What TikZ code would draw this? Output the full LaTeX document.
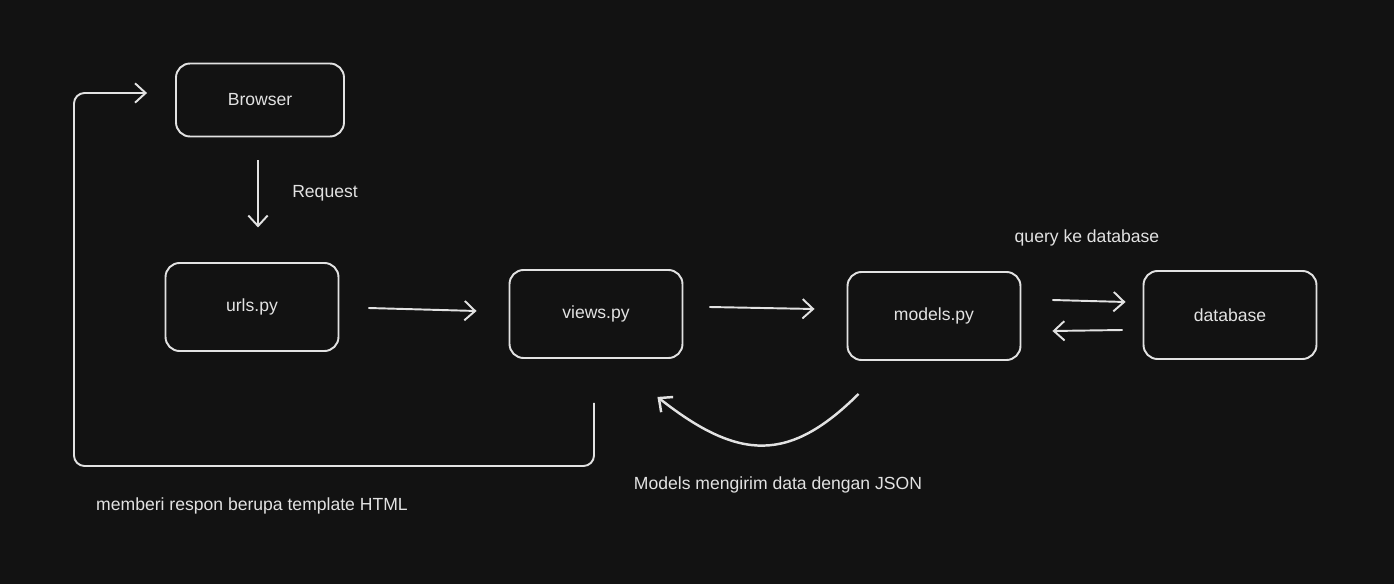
\documentclass[tikz,border=0pt]{standalone}
\usepackage{fontspec}
\setmainfont{Liberation Sans}
\usetikzlibrary{arrows.meta}
\definecolor{bg}{HTML}{121212}
\definecolor{ink}{HTML}{E2E2E2}
\begin{document}
\begin{tikzpicture}
  [x=0.02cm,y=-0.02cm,>={Straight Barb[length=6pt,width=11pt]},
   every node/.style={text=ink,font=\fontsize{10}{12}\selectfont},
   box/.style={draw=ink,line width=1.1pt,rounded corners=8pt,
     minimum width=3.46cm,minimum height=1.76cm},
   link/.style={->,draw=ink,line width=1.1pt}]
  \fill[bg] (0,0) rectangle (1394,584);
  \useasboundingbox (0,0) rectangle (1394,584);

  \node[box,minimum width=3.36cm,minimum height=1.46cm] (browser) at (260,100) {Browser};
  \node[box] (urls) at (252,307) {urls.py};
  \node[box] (views) at (596,314) {views.py};
  \node[box] (models) at (934,316) {models.py};
  \node[box] (db) at (1230,315) {database};

  \node (lreq) at (325,193) {Request};
  \node (lquery) at (1087,238) {query ke database};
  \node (ljson) at (778,485) {Models mengirim data dengan JSON};
  \node (lresp) at (252,506) {memberi respon berupa template HTML};

  \coordinate (corner) at (74,466);

  \draw[link] ([shift={(-2,23)}]browser.south) -- ++(0,67);
  \draw[link] ([shift={(29,1)}]urls.east) -- ([shift={(-32,-3)}]views.west);
  \draw[link] ([shift={(26,-7)}]views.east) -- ([shift={(-32,-7)}]models.west);
  \draw[link] ([shift={(31,-16)}]models.east) -- ([shift={(-17,-13)}]db.west);
  \draw[link] ([shift={(-20,15)}]db.west) -- ([shift={(31,15)}]models.east);

  \draw[link,rounded corners=6pt]
        ([shift={(-2,44)}]views.south) |- (corner) |- ([shift={(-28,-7)}]browser.west);

  \draw[link,line width=1.4pt]
        ([shift={(12,33)}]models.south west) .. controls (790,462) and (740,462) .. ([shift={(-26,38)}]views.south east);

\end{tikzpicture}
\end{document}
